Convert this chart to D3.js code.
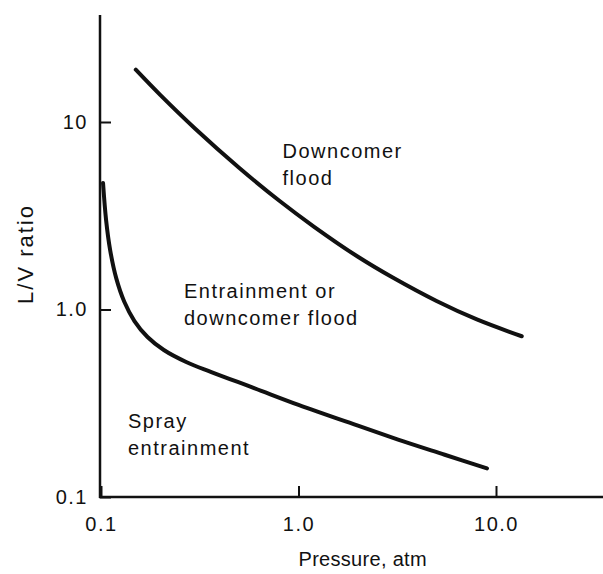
<!DOCTYPE html>
<html>
<head>
<meta charset="utf-8">
<style>
  body { margin: 0; background: #fff; }
  svg text { font-family: "Liberation Sans", Arial, sans-serif; font-size: 20px; fill: #111; letter-spacing: 1.5px; }
  .axis .domain { display: none; }
  .axis .tick line { stroke: #111; stroke-width: 2; }
  .curve { fill: none; stroke: #111; stroke-width: 4; stroke-linecap: round; }
  .frame { stroke: #111; stroke-width: 2.5; }
</style>
<script src="https://cdn.jsdelivr.net/npm/d3@7"></script>
</head>
<body>
<script>
// tick values / labels
var pressureTicks = [0.1, 1.0, 10.0];
var pressureLabels = ["0.1", "1.0", "10.0"];
var ratioTicks = [0.1, 1.0, 10];
var ratioLabels = ["0.1", "1.0", "10"];

// upper curve: downcomer flood limit
var downcomerP  = [0.15, 0.2, 0.3, 0.5, 0.8, 1.2, 2.0, 3.0, 5.0, 8.0, 13.5];
var downcomerLV = [19, 13.9, 9.2, 5.7, 3.8, 2.76, 1.91, 1.48, 1.11, 0.885, 0.72];

// lower curve: spray entrainment limit
var sprayP  = [0.1024, 0.1061, 0.1112, 0.1194, 0.1312, 0.1477, 0.172, 0.208, 0.27, 0.362, 0.6, 1.0, 2.0, 3.4, 5.5, 9.0];
var sprayLV = [4.73, 3.0, 2.08, 1.47, 1.1, 0.868, 0.713, 0.608, 0.525, 0.464, 0.38, 0.31, 0.24, 0.198, 0.168, 0.142];

var width = 603, height = 574;

var svg = d3.select("body").append("svg")
    .attr("width", width)
    .attr("height", height);

var x = d3.scaleLog().domain([0.1, 10]).range([101, 496]);
var y = d3.scaleLog().domain([0.1, 10]).range([497, 122]);

// axes, ticks pointing inward
svg.append("g")
    .attr("class", "axis")
    .attr("transform", "translate(0," + y(0.1) + ")")
    .call(d3.axisBottom(x)
        .tickValues(pressureTicks)
        .tickFormat(function(d, i) { return pressureLabels[i]; })
        .tickSizeInner(-11).tickSizeOuter(0).tickPadding(20));

svg.append("g")
    .attr("class", "axis")
    .attr("transform", "translate(" + (x(0.1) - 1) + ",0)")
    .call(d3.axisLeft(y)
        .tickValues(ratioTicks)
        .tickFormat(function(d, i) { return ratioLabels[i]; })
        .tickSizeInner(-11).tickSizeOuter(0).tickPadding(12));

svg.append("line").attr("class", "frame")
    .attr("x1", x(0.1) - 2).attr("x2", width)
    .attr("y1", y(0.1)).attr("y2", y(0.1));
svg.append("line").attr("class", "frame")
    .attr("x1", x(0.1) - 1).attr("x2", x(0.1) - 1)
    .attr("y1", y(0.1) + 1).attr("y2", 15);

var line = d3.line()
    .x(function(d) { return x(d[0]); })
    .y(function(d) { return y(d[1]); })
    .curve(d3.curveCatmullRom.alpha(0.5));

svg.append("path").attr("class", "curve")
    .datum(d3.zip(downcomerP, downcomerLV))
    .attr("d", line);

svg.append("path").attr("class", "curve")
    .datum(d3.zip(sprayP, sprayLV))
    .attr("d", line);

// region labels
function label(lines, px, py, spacing) {
  var t = svg.append("text").attr("x", x(px)).attr("y", y(py))
      .style("letter-spacing", spacing + "px");
  lines.forEach(function(s, i) {
    t.append("tspan").attr("x", x(px)).attr("dy", i ? 27 : 0).text(s);
  });
}
label(["Downcomer", "flood"], 0.83, 6.4, 1.5);
label(["Entrainment or", "downcomer flood"], 0.263, 1.15, 1.5);
label(["Spray", "entrainment"], 0.137, 0.233, 1.5);

svg.append("text")
    .attr("transform", "translate(33," + 254 + ") rotate(-90)")
    .attr("text-anchor", "middle")
    .style("font-size", "22px")
    .style("letter-spacing", "2px")
    .text("L/V ratio");

svg.append("text")
    .attr("x", x(1.0)).attr("y", 566)
    .style("font-size", "20px")
    .style("letter-spacing", "0.3px")
    .text("Pressure, atm");
</script>
</body>
</html>
